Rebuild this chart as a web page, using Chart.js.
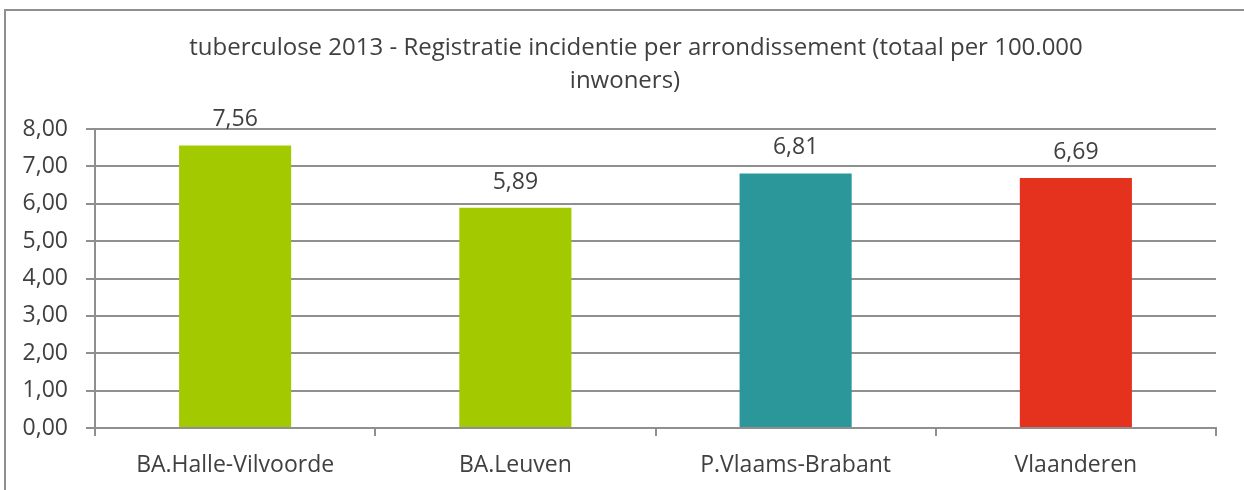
<!DOCTYPE html>
<html>
<head>
<meta charset="utf-8">
<script src="https://cdn.jsdelivr.net/npm/chart.js@4/dist/chart.umd.min.js"></script>
<style>
  html, body { margin: 0; padding: 0; background: #fff; overflow: hidden; }
  #frame { position: absolute; left: 4px; top: 9px; width: 1400px; height: 600px;
           border-left: 2px solid #8f8f8f; border-top: 2px solid #8f8f8f; }
  #wrap { position: absolute; left: 0; top: 0; width: 1244px; height: 490px; }
</style>
</head>
<body>
<div id="frame"></div>
<div id="wrap"><canvas id="myChart" width="1244" height="490"></canvas></div>
<script>
var categories = ['BA.Halle-Vilvoorde', 'BA.Leuven', 'P.Vlaams-Brabant', 'Vlaanderen'];
var values = [7.56, 5.89, 6.81, 6.69];
var barColors = ['#a3c900', '#a3c900', '#2c979a', '#e5321f'];
var titleLines = ['tuberculose 2013 - Registratie incidentie per arrondissement (totaal per 100.000', 'inwoners)'];

var fontFamily = '"Open Sans", sans-serif';
var textColor = '#404040';
var gridColor = '#8f8f8f';

function fmt(v) {
    return v.toFixed(2).replace('.', ',');
}

// title drawn by hand, the two lines are not centred on the same spot in the original
var titleText = {
    id: 'titleText',
    afterDraw: function(chart) {
        var ctx = chart.ctx;
        ctx.save();
        ctx.font = '24px ' + fontFamily;
        ctx.fillStyle = textColor;
        ctx.textAlign = 'center';
        ctx.textBaseline = 'alphabetic';
        ctx.fillText(titleLines[0], 636, 55);
        ctx.fillText(titleLines[1], 625, 88);
        ctx.restore();
    }
};

// labels above the bars
var valueLabels = {
    id: 'valueLabels',
    afterDatasetsDraw: function(chart) {
        var ctx = chart.ctx;
        var meta = chart.getDatasetMeta(0);
        ctx.save();
        ctx.font = '23px ' + fontFamily;
        ctx.fillStyle = textColor;
        ctx.textAlign = 'center';
        ctx.textBaseline = 'alphabetic';
        meta.data.forEach(function(bar, i) {
            ctx.fillText(fmt(values[i]), bar.x, bar.y - 19);
        });
        ctx.restore();
    }
};

new Chart('myChart', {
    type: 'bar',
    data: {
        labels: categories,
        datasets: [{
            data: values,
            backgroundColor: barColors,
            borderWidth: 0,
            barPercentage: 0.4,
            categoryPercentage: 1
        }]
    },
    plugins: [valueLabels, titleText],
    options: {
        responsive: false,
        animation: { duration: 0 },
        layout: { padding: { left: 0, right: 28, top: 129, bottom: 0 } },
        plugins: {
            legend: { display: false },
            tooltip: { enabled: false },
            title: { display: false }
        },
        scales: {
            x: {
                afterFit: function(scale) { scale.height = 62; },
                grid: {
                    display: true,
                    offset: true,
                    drawOnChartArea: false,
                    drawTicks: true,
                    tickLength: 8,
                    color: gridColor,
                    lineWidth: 2
                },
                border: { display: true, color: gridColor, width: 2 },
                ticks: {
                    color: textColor,
                    padding: 16,
                    font: { family: fontFamily, size: 23 },
                    maxRotation: 0
                }
            },
            y: {
                min: 0,
                max: 8,
                afterFit: function(scale) { scale.width = 95; },
                grid: {
                    color: gridColor,
                    lineWidth: 2,
                    tickLength: 9
                },
                border: { display: true, color: gridColor, width: 2 },
                ticks: {
                    stepSize: 1,
                    color: textColor,
                    padding: 18,
                    font: { family: fontFamily, size: 23 },
                    callback: function(value) { return fmt(value); }
                }
            }
        }
    }
});
</script>
</body>
</html>
